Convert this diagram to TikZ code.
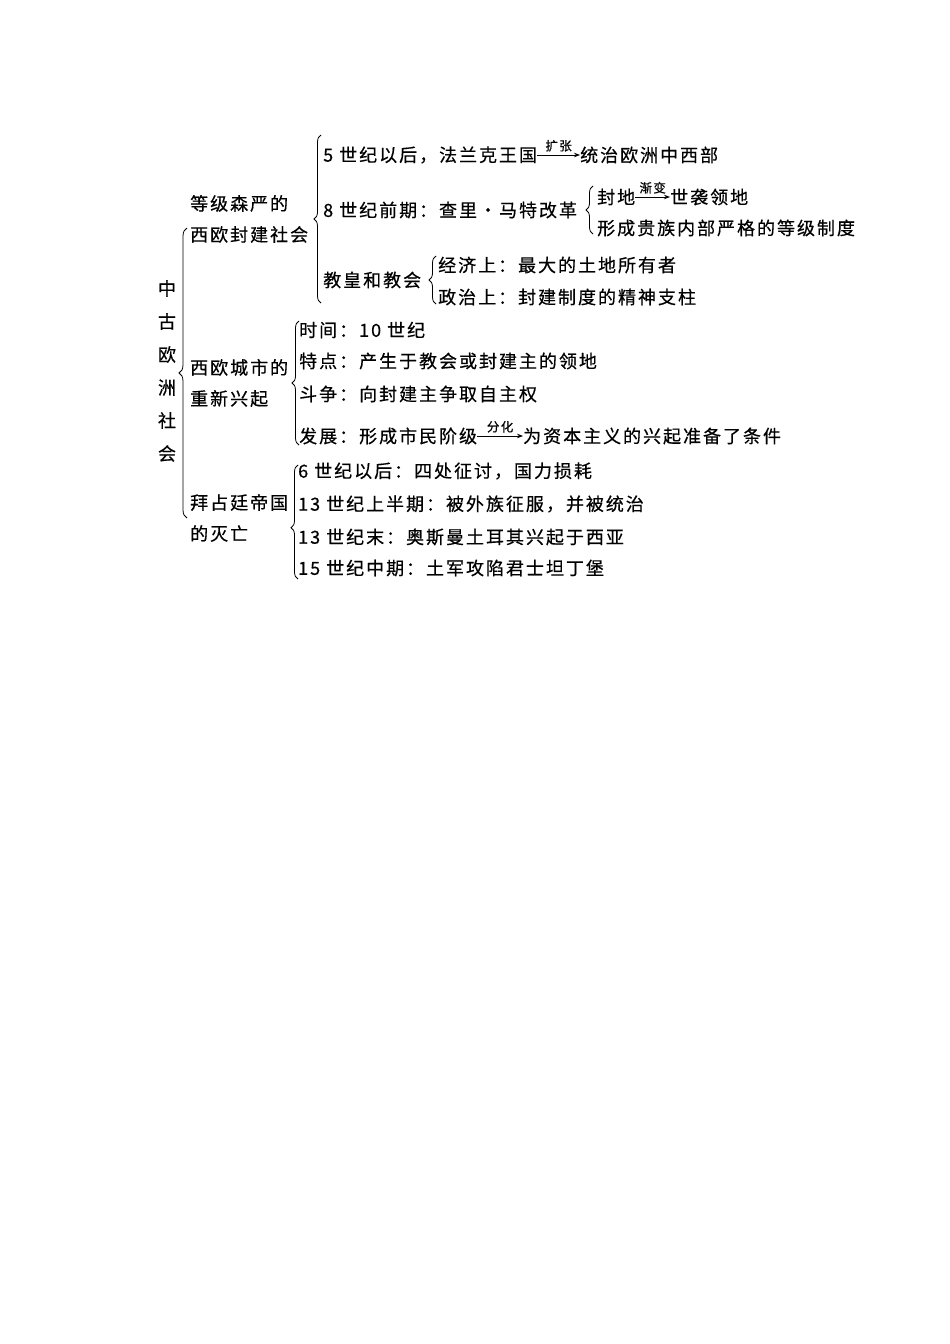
\documentclass[tikz,border=0pt]{standalone}
\usepackage{fontspec}
\setmainfont{Noto Sans CJK SC}[LetterSpace=11,FakeBold=0.5]
\usetikzlibrary{decorations.pathreplacing,arrows.meta}
\begin{document}
\begin{tikzpicture}[x=1pt,y=-1pt,
  txt/.style={anchor=west,inner sep=0pt,font=\fontsize{18}{20}\selectfont},
  cat/.style={anchor=west,inner sep=0pt,align=left,font=\fontsize{18}{31}\selectfont},
  lbl/.style={inner sep=0pt,font=\fontsize{12.5}{14}\selectfont},
  br/.style={decorate,decoration={brace,amplitude=#1},line width=0.8pt},
  arr/.style={-{Stealth[length=6pt,width=4.5pt]},line width=0.9pt}]
\useasboundingbox (0,0) rectangle (950,1344);
% root
\node[inner sep=0pt,align=center,font=\fontsize{18}{33}\selectfont] (root) at (167,371) {中\\古\\欧\\洲\\社\\会};
% categories
\node[cat] (feudal) at (190,219) {等级森严的\\西欧封建社会};
\node[cat] (city) at (190,383) {西欧城市的\\重新兴起};
\node[cat] (byz) at (190,518) {拜占廷帝国\\的灭亡};
% feudal items
\node[txt] (f1) at (323,155) {5 世纪以后，法兰克王国};
\node[txt] (f1b) at (580,155) {统治欧洲中西部};
\node[txt] (f2) at (323,210) {8 世纪前期：查里\kern2pt·\kern2pt马特改革};
\node[txt] (f2a) at (597,197) {封地};
\node[txt] (f2b) at (670,197) {世袭领地};
\node[txt] (f2c) at (597,228) {形成贵族内部严格的等级制度};
\node[txt] (f3) at (323,280) {教皇和教会};
\node[txt] (f3a) at (438,265) {经济上：最大的土地所有者};
\node[txt] (f3b) at (438,297) {政治上：封建制度的精神支柱};
% city items
\node[txt] (c1) at (299,330) {时间：10 世纪};
\node[txt] (c2) at (299,361) {特点：产生于教会或封建主的领地};
\node[txt] (c3) at (299,394) {斗争：向封建主争取自主权};
\node[txt] (c4) at (299,436) {发展：形成市民阶级};
\node[txt] (c4b) at (523,436) {为资本主义的兴起准备了条件};
% byzantine items
\node[txt] (b1) at (298,471) {6 世纪以后：四处征讨，国力损耗};
\node[txt] (b2) at (298,504) {13 世纪上半期：被外族征服，并被统治};
\node[txt] (b3) at (298,537) {13 世纪末：奥斯曼土耳其兴起于西亚};
\node[txt] (b4) at (298,568) {15 世纪中期：土军攻陷君士坦丁堡};
% brace end points
\coordinate (mT) at (187,228); \coordinate (mB) at (187,518);
\coordinate (fT) at (321,135); \coordinate (fB) at (321,303);
\coordinate (rT) at (593,186); \coordinate (rB) at (593,234);
\coordinate (eT) at (436,256); \coordinate (eB) at (436,304);
\coordinate (cT) at (299,321); \coordinate (cB) at (299,445);
\coordinate (yT) at (298,465); \coordinate (yB) at (298,579);
% braces
\draw[br=8pt] (mB) -- (mT);
\draw[br=7pt] (fB) -- (fT);
\draw[br=7pt] (rB) -- (rT);
\draw[br=7pt] (eB) -- (eT);
\draw[br=7pt] (cB) -- (cT);
\draw[br=7pt,decoration={aspect=0.45}] (yB) -- (yT);
% arrows
\draw[arr] (f1.east) -- node[lbl,above=3pt]{扩张} (f1b.west);
\draw[arr] (f2a.east) -- node[lbl,above=3pt]{渐变} (f2b.west);
\draw[arr] (c4.east) -- node[lbl,above=3pt]{分化} (c4b.west);
\end{tikzpicture}
\end{document}
